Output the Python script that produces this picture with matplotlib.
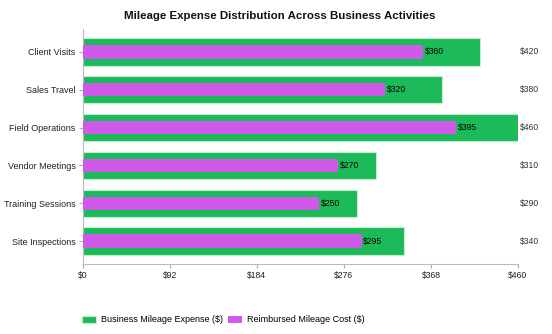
import matplotlib
matplotlib.use("Agg")
import matplotlib.pyplot as plt
import matplotlib.transforms as mtransforms

plt.rcParams['font.family'] = ['Liberation Sans', 'DejaVu Sans']

categories = ["Client Visits", "Sales Travel", "Field Operations",
              "Vendor Meetings", "Training Sessions", "Site Inspections"]
business_expense = [420, 380, 460, 310, 290, 340]
reimbursed_cost = [360, 320, 395, 270, 250, 295]
xticks = [0, 92, 184, 276, 368, 460]
xtick_labels = ["$0", "$92", "$184", "$276", "$368", "$460"]

green = '#1dba5a'
purple = '#cf59e8'

fig = plt.figure(figsize=(5.52, 3.34), dpi=100)
ax = fig.add_axes([0.1495, 0.2096, 0.9384 - 0.1495, 0.9132 - 0.2096])

y = list(range(len(categories)))
b1 = ax.barh(y, business_expense, height=0.73, color=green,
             edgecolor='#bff0cf', linewidth=0.8, label='Business Mileage Expense ($)', zorder=2)
b2 = ax.barh(y, reimbursed_cost, height=0.36, color=purple,
             edgecolor='none', label='Reimbursed Mileage Cost ($)', zorder=3)

trans = mtransforms.blended_transform_factory(ax.transAxes, ax.transData)
for yi, v in zip(y, business_expense):
    ax.text(1.005, yi, f"${v}", transform=trans, va='center', ha='left',
            fontsize=6.2, color='#333333')
for yi, v in zip(y, reimbursed_cost):
    ax.text(v + 1.5, yi, f"${v}", va='center', ha='left',
            fontsize=6.2, color='#000000', zorder=4)

ax.set_xlim(0, 460)
ax.set_ylim(-0.6, len(categories) - 0.4)
ax.invert_yaxis()
ax.set_yticks(y)
ax.set_yticklabels(categories, fontsize=6.5, color='#222222')
ax.set_xticks(xticks)
ax.set_xticklabels(xtick_labels, fontsize=6.2, color='#222222')
ax.tick_params(axis='both', colors='#aaaaaa', length=3, width=0.8, labelcolor='#222222', pad=2)

for s in ['top', 'right']:
    ax.spines[s].set_visible(False)
for s in ['left', 'bottom']:
    ax.spines[s].set_color('#bbbbbb')
    ax.spines[s].set_linewidth(0.8)

fig.text(280 / 552, 1 - 16 / 334, "Mileage Expense Distribution Across Business Activities",
         ha='center', va='center', fontsize=8.25, fontweight='bold', color='#111111')

fig.legend(handles=[b1, b2], loc='center left', bbox_to_anchor=(0.149, 1 - 320 / 334),
           ncol=2, frameon=False, fontsize=6.5, handlelength=1.55, handleheight=0.9,
           handletextpad=0.5, columnspacing=0.6, borderaxespad=0, borderpad=0)

fig.savefig('out.png', dpi=100)
